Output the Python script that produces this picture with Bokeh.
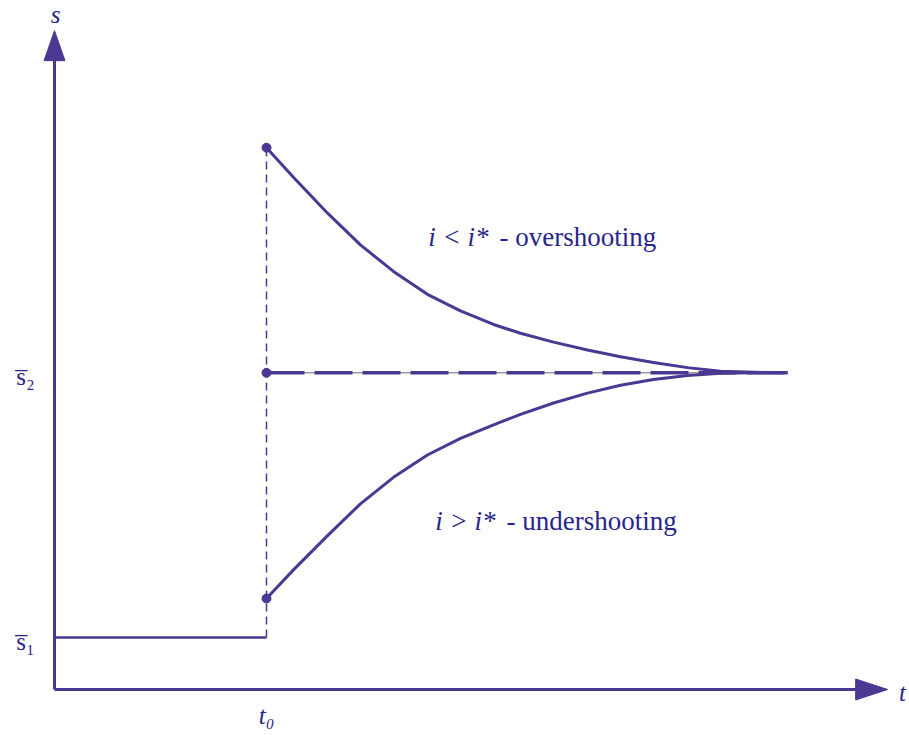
from bokeh.plotting import figure
from bokeh.models import Range1d
from bokeh.core.properties import value
from bokeh.embed import file_html
from bokeh.resources import INLINE

# ---- data (abstract units: t on x, s on y) ----
t0 = 1.0
t_end = 3.458
t_axis_end = 3.93
s_axis_end = 12.67
s1 = 1.0
s2 = 6.09
s_over0 = 10.42
s_under0 = 1.75

over_t = [1.000, 1.127, 1.288, 1.443, 1.599, 1.759, 1.915, 2.071, 2.198, 2.354,
          2.514, 2.670, 2.825, 2.986, 3.142, 3.300, 3.458]
over_s = [10.42, 9.85, 9.16, 8.55, 8.04, 7.60, 7.28, 7.02, 6.85, 6.68,
          6.53, 6.40, 6.29, 6.19, 6.12, 6.10, 6.09]
under_t = [1.000, 1.127, 1.288, 1.443, 1.599, 1.759, 1.915, 2.071, 2.198, 2.354,
           2.514, 2.670, 2.825, 2.986, 3.142, 3.300, 3.458]
under_s = [1.75, 2.30, 2.96, 3.57, 4.08, 4.51, 4.83, 5.09, 5.29, 5.51,
           5.70, 5.85, 5.96, 6.04, 6.08, 6.09, 6.09]

label_over = ["i < i*", "- overshooting"]
label_under = ["i > i*", "- undershooting"]

# ---- styling ----
LINE = "#4a3892"
TEXT = "#27258c"
SERIF = value("Liberation Serif")

W, H = 909, 735
PX_X = 212.0  # px per t unit
PX_Y = 52.0   # px per s unit
OX, OY = 54, 689  # pixel position of the origin
x0 = -OX / PX_X
y1 = OY / PX_Y

p = figure(width=W, height=H, output_backend="svg", toolbar_location=None,
           x_range=Range1d(x0, x0 + W / PX_X), y_range=Range1d(y1 - H / PX_Y, y1),
           min_border=0, outline_line_color=None)
p.axis.visible = False
p.grid.visible = False
p.background_fill_color = "white"
p.border_fill_color = "white"

def dx(px):
    return px / PX_X

def dy(px):
    return px / PX_Y

def px_t(x):
    return (x - OX) / PX_X

def px_s(y):
    return (OY - y) / PX_Y

# axes
p.line([0, t_axis_end - dx(28)], [0, 0], line_color=LINE, line_width=3)
p.line([0, 0], [0, s_axis_end - dy(26)], line_color=LINE, line_width=3)
# arrow heads
p.patch([t_axis_end, t_axis_end - dx(32), t_axis_end - dx(32)],
        [0, dy(10.5), -dy(10.5)], fill_color=LINE, line_color=LINE, line_width=1)
p.patch([0, -dx(10.5), dx(10.5)],
        [s_axis_end, s_axis_end - dy(30), s_axis_end - dy(30)], fill_color=LINE, line_color=LINE, line_width=1)

# initial level s1
p.line([0, t0], [s1, s1], line_color=LINE, line_width=2.6)
# vertical dashed at t0
p.line([t0, t0], [s1, s_over0], line_color=LINE, line_width=1.5, line_dash="8 5")
# s2 level: gray thin + thick dashes
p.line([t0, t_end], [s2, s2], line_color="#9a9a9a", line_width=1.5)
p.line([t0, t_end], [s2, s2], line_color=LINE, line_width=3.5, line_dash="38 10")

# curves
p.line(over_t, over_s, line_color=LINE, line_width=3, line_join="round")
p.line(under_t, under_s, line_color=LINE, line_width=3, line_join="round")

# dots
p.scatter([t0, t0, t0], [s_over0, s2, s_under0], size=9, fill_color=LINE, line_color=LINE)

# labels
def txt(x, y, s, style="italic", size="27px", align="left", baseline="middle"):
    p.text([x], [y], text=[s], text_font=SERIF, text_font_style=style,
           text_font_size=size, text_color=TEXT, text_align=align, text_baseline=baseline)

txt(px_t(55), px_s(14), "s", align="center", size="25px")
txt(px_t(902), px_s(692), "t", align="center", size="25px")
txt(t0, px_s(715), "t\u2080", align="center", size="25px")
txt(px_t(25), px_s(641), "s\u0305\u2081", style="normal", align="center", size="25px")
txt(px_t(25), px_s(376), "s\u0305\u2082", style="normal", align="center", size="25px")

txt(px_t(488), px_s(236), label_over[0], align="right")
txt(px_t(499), px_s(236), label_over[1], style="normal")
txt(px_t(495), px_s(520), label_under[0], align="right")
txt(px_t(506), px_s(520), label_under[1], style="normal")

open("out.html", "w").write(file_html(p, INLINE))
